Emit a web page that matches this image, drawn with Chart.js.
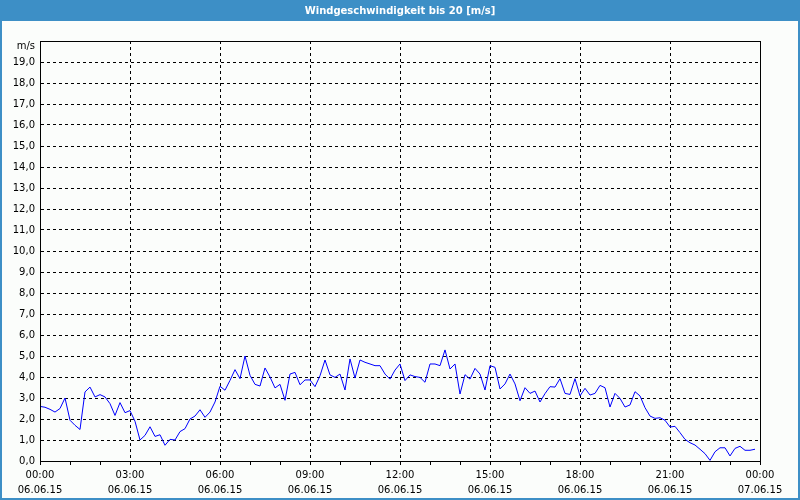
<!DOCTYPE html>
<html lang="de">
<head>
  <meta charset="UTF-8">
  <title>Windgeschwindigkeit bis 20 [m/s]</title>
  <script src="https://cdn.jsdelivr.net/npm/chart.js"></script>
  <style>
    html, body {
      margin: 0;
      padding: 0;
      background: #fbfdfb;
    }
    canvas {
      display: block;
    }
  </style>
</head>
<body>
  <canvas id="windChart" width="800" height="500"></canvas>

  <script>
    // Messwerte alle 10 Minuten, 06.06.15 00:00 bis 23:50 (m/s)
    const windSpeed = [
      2.6, 2.56, 2.46, 2.33, 2.5, 3.0, 1.94, 1.7, 1.5, 3.29, 3.52, 3.05,
      3.16, 3.05, 2.73, 2.17, 2.78, 2.3, 2.4, 1.89, 1.0, 1.22, 1.63, 1.17,
      1.25, 0.75, 1.03, 1.0, 1.4, 1.54, 2.0, 2.14, 2.44, 2.08, 2.33, 2.81,
      3.56, 3.37, 3.84, 4.35, 3.92, 5.0, 4.08, 3.65, 3.57, 4.43, 4.0, 3.48,
      3.65, 2.89, 4.14, 4.22, 3.63, 3.86, 3.86, 3.54, 4.06, 4.81, 4.1, 3.98,
      4.14, 3.38, 4.86, 3.95, 4.81, 4.7, 4.62, 4.54, 4.54, 4.14, 3.9, 4.33,
      4.62, 3.83, 4.1, 4.02, 3.98, 3.75, 4.62, 4.62, 4.54, 5.29, 4.38, 4.62,
      3.19, 4.11, 3.9, 4.41, 4.14, 3.38, 4.54, 4.46, 3.43, 3.67, 4.14, 3.67,
      2.87, 3.49, 3.22, 3.33, 2.81, 3.21, 3.54, 3.52, 3.92, 3.22, 3.17, 3.92,
      3.1, 3.46, 3.14, 3.22, 3.6, 3.49, 2.57, 3.22, 2.98, 2.57, 2.67, 3.3,
      3.1, 2.54, 2.14, 2.03, 2.06, 1.94, 1.62, 1.65, 1.35, 1.03, 0.87, 0.76,
      0.56, 0.35, 0.03, 0.44, 0.63, 0.63, 0.24, 0.6, 0.7, 0.51, 0.51, 0.56
    ];
    const sampleMinutes = 10;

    // Beschriftung der x-Achse (Stunde -> Uhrzeit / Datum)
    const xTickHours = [0, 3, 6, 9, 12, 15, 18, 21, 24];
    const xTickTimes = ['00:00', '03:00', '06:00', '09:00', '12:00', '15:00', '18:00', '21:00', '00:00'];
    const xTickDates = ['06.06.15', '06.06.15', '06.06.15', '06.06.15', '06.06.15', '06.06.15', '06.06.15', '06.06.15', '07.06.15'];

    const yUnit = 'm/s';
    const chartTitle = 'Windgeschwindigkeit bis 20 [m/s]';

    const points = windSpeed.map((v, i) => ({ x: i * sampleMinutes / 60, y: v }));

    // Titelleiste, Rahmen und Plotrahmen
    const frame = {
      id: 'frame',
      beforeDraw(chart) {
        const c = chart.ctx;
        c.save();
        c.fillStyle = '#fbfdfb';
        c.fillRect(0, 0, 800, 500);
        c.fillStyle = '#3d8fc6';
        c.fillRect(0, 0, 800, 21);
        c.fillRect(0, 0, 2, 500);
        c.fillRect(798, 0, 2, 500);
        c.fillRect(0, 498, 800, 2);
        c.fillStyle = '#ffffff';
        c.font = 'bold 10px "DejaVu Sans"';
        c.textAlign = 'center';
        c.textBaseline = 'middle';
        c.fillText(chartTitle, 400, 11);
        c.restore();
      },
      afterDraw(chart) {
        const a = chart.chartArea;
        const c = chart.ctx;
        c.save();
        c.strokeStyle = '#000';
        c.lineWidth = 1;
        c.setLineDash([]);
        c.strokeRect(Math.round(a.left) + 0.5, Math.round(a.top) + 0.5,
          Math.round(a.right - a.left), Math.round(a.bottom - a.top));
        c.fillStyle = '#000';
        c.font = '10px "DejaVu Sans"';
        c.textAlign = 'right';
        c.textBaseline = 'middle';
        c.fillText(yUnit, a.left - 5, a.top + 5);
        c.restore();
      }
    };

    new Chart(document.getElementById('windChart'), {
      type: 'line',
      data: {
        datasets: [{
          data: points,
          borderColor: '#0000ff',
          borderWidth: 1,
          pointRadius: 0,
          tension: 0,
          fill: false
        }]
      },
      options: {
        responsive: false,
        animation: false,
        layout: { padding: { top: 41, right: 40, left: 0, bottom: 0 } },
        plugins: {
          legend: { display: false },
          tooltip: { enabled: false }
        },
        scales: {
          x: {
            type: 'linear',
            min: 0,
            max: 24,
            afterFit: s => { s.height = 39; },
            border: { color: '#000', width: 1, dash: [3, 3] },
            grid: {
              color: ctx => (ctx.tick && xTickHours.includes(ctx.tick.value) &&
                ctx.tick.value !== 0 && ctx.tick.value !== 24) ? '#000' : 'rgba(0,0,0,0)',
              tickColor: '#000',
              tickBorderDash: [],
              tickLength: 4,
              drawTicks: true
            },
            ticks: {
              stepSize: 1,
              autoSkip: false,
              maxRotation: 0,
              padding: 3,
              color: '#000',
              font: { family: 'DejaVu Sans', size: 10, lineHeight: 1.5 },
              callback: v => {
                const i = xTickHours.indexOf(v);
                return i < 0 ? '' : [xTickTimes[i], xTickDates[i]];
              }
            }
          },
          y: {
            min: 0,
            max: 20,
            afterFit: s => { s.width = 40; },
            border: { color: '#000', width: 1, dash: [3, 3] },
            grid: {
              color: ctx => (ctx.tick && ctx.tick.value > 0 && ctx.tick.value < 20) ? '#000' : 'rgba(0,0,0,0)',
              drawTicks: false
            },
            ticks: {
              stepSize: 1,
              autoSkip: false,
              padding: 5,
              color: '#000',
              font: { family: 'DejaVu Sans', size: 10 },
              callback: v => v >= 20 ? '' : v.toFixed(1).replace('.', ',')
            }
          }
        }
      },
      plugins: [frame]
    });
  </script>
</body>
</html>
